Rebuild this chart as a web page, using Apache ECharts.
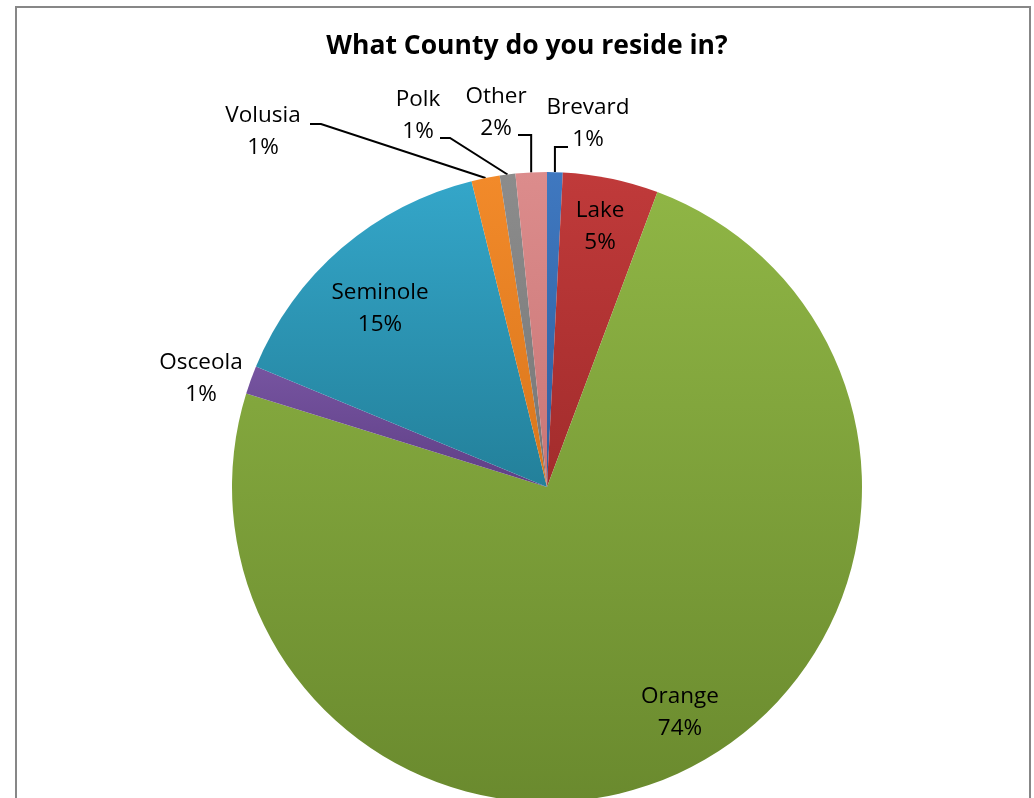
<!DOCTYPE html>
<html>
<head>
<meta charset="utf-8">
<script src="https://cdn.jsdelivr.net/npm/echarts@6/dist/echarts.min.js"></script>
<style>
html,body{margin:0;padding:0;background:#fff;}
#chart{width:1034px;height:798px;}
</style>
</head>
<body>
<div id="chart"></div>
<script>
// ---- data ----
const titleText = 'What County do you reside in?';
const counties = ['Brevard', 'Lake', 'Orange', 'Osceola', 'Seminole', 'Volusia', 'Polk', 'Other'];
const shares = [0.8, 4.9, 74.1, 1.45, 14.9, 1.45, 0.8, 1.6];

// ---- styling (not data) ----
const colorsTop = ['#3f78c0', '#c03a3a', '#8fb545', '#7654a0', '#34a6c9', '#f28a2a', '#8c8c8c', '#dc8c8c'];
const colorsBot = ['#2f5f9e', '#a22c2c', '#6a8a2e', '#5f3f86', '#23809a', '#d9761c', '#777777', '#c97676'];
// label centre positions & leader-line shapes (layout)
const labelPos = {
  Brevard:  {x: 588, y: 124, line: 'bracketRight', ly: 147, lx: 568},
  Lake:     {x: 600, y: 227},
  Orange:   {x: 680, y: 713},
  Osceola:  {x: 201, y: 379},
  Seminole: {x: 380, y: 309},
  Volusia:  {x: 263, y: 132, line: 'diag', ly: 124, lx: 310, bx: 321},
  Polk:     {x: 418, y: 116, line: 'diag', ly: 138, lx: 440, bx: 450},
  Other:    {x: 496, y: 113, line: 'bracketLeft', ly: 135, lx: 518}
};

const chart = echarts.init(document.getElementById('chart'), null, {renderer: 'canvas'});

const data = counties.map((name, i) => ({
  name: name,
  value: shares[i],
  itemStyle: {
    color: new echarts.graphic.LinearGradient(0, 0, 0, 1, [
      {offset: 0, color: colorsTop[i]},
      {offset: 1, color: colorsBot[i]}
    ])
  },
  labelLine: {show: !!labelPos[name].line}
}));

chart.setOption({
  animation: false,
  backgroundColor: '#ffffff',
  title: {
    text: titleText,
    left: 522,
    top: 28,
    textAlign: 'center',
    textStyle: {fontFamily: 'Open Sans', fontWeight: 'bold', fontSize: 26.5, color: '#000'}
  },
  graphic: [{
    type: 'rect',
    shape: {x: 16, y: 7, width: 1014, height: 820},
    style: {fill: 'none', stroke: '#878787', lineWidth: 2},
    silent: true
  }],
  series: [{
    type: 'pie',
    center: [547, 487],
    radius: 315,
    startAngle: 90,
    clockwise: true,
    avoidLabelOverlap: false,
    data: data,
    itemStyle: {borderWidth: 0},
    label: {
      show: true,
      position: 'outside',
      fontFamily: 'Open Sans',
      fontSize: 22.5,
      lineHeight: 32,
      color: '#000',
      align: 'center',
      formatter: p => p.name + '\n' + Math.round(p.value) + '%'
    },
    labelLine: {show: true, lineStyle: {color: '#000', width: 2}, length: 10, length2: 10},
    labelLayout: function (params) {
      const name = counties[params.dataIndex];
      const lp = labelPos[name];
      const res = {x: lp.x, y: lp.y, align: 'center', verticalAlign: 'middle'};
      const pts = params.labelLinePoints;
      if (lp.line && pts && pts.length) {
        const e = pts[0];
        if (lp.line === 'bracketRight' || lp.line === 'bracketLeft') {
          res.labelLinePoints = [[e[0], e[1]], [e[0], lp.ly], [lp.lx, lp.ly]];
        } else {
          res.labelLinePoints = [[e[0], e[1]], [lp.bx, lp.ly], [lp.lx, lp.ly]];
        }
      }
      return res;
    }
  }]
});
</script>
</body>
</html>
